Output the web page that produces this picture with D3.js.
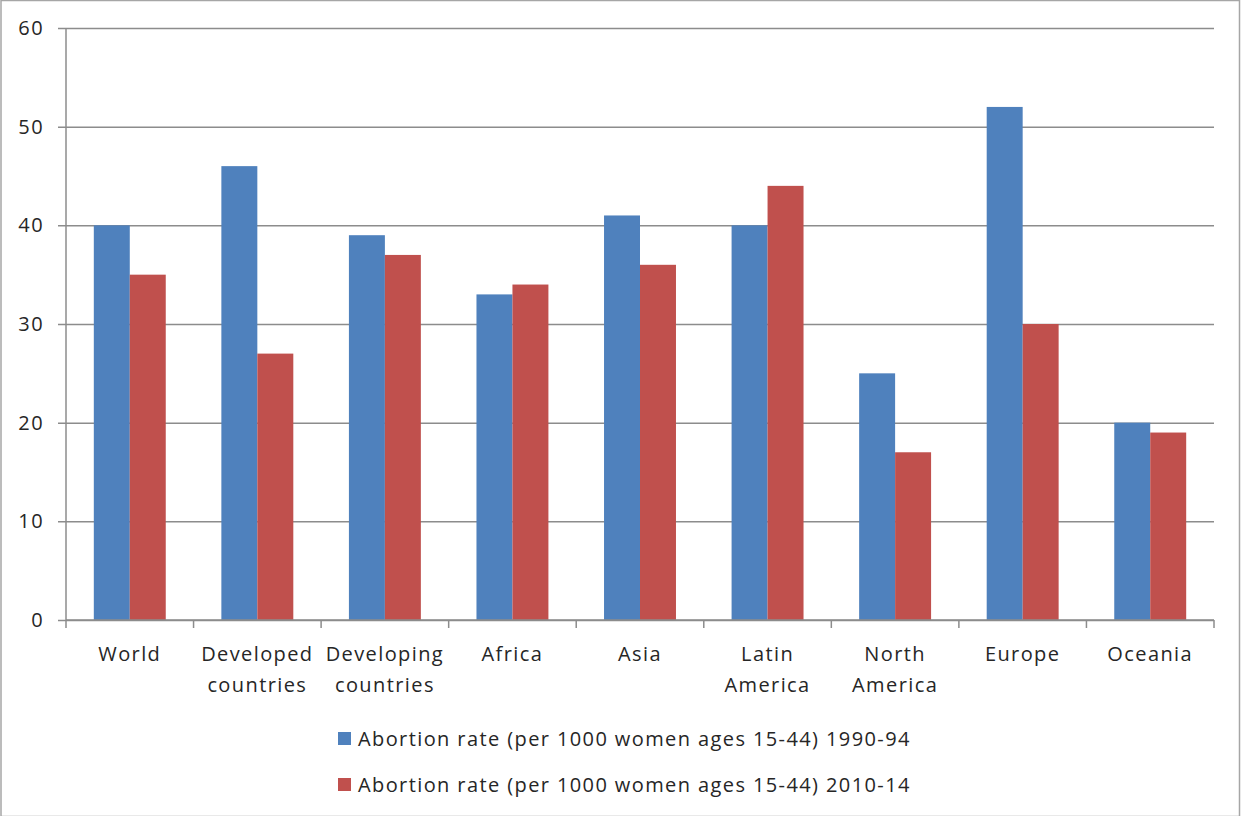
<!DOCTYPE html>
<html>
<head>
<meta charset="utf-8">
<script src="https://cdn.jsdelivr.net/npm/d3@7"></script>
<style>
  body { margin: 0; background: #fff; }
  text { font-family: "Open Sans", sans-serif; fill: #262626; letter-spacing: 1.4px; }
</style>
</head>
<body>
<div id="chart"></div>
<script>
// data
const regions = ["World", "Developed countries", "Developing countries", "Africa", "Asia",
                 "Latin America", "North America", "Europe", "Oceania"];
const rate1990 = [40, 46, 39, 33, 41, 40, 25, 52, 20];
const rate2010 = [35, 27, 37, 34, 36, 44, 17, 30, 19];
const seriesNames = ["Abortion rate (per 1000 women ages 15-44) 1990-94",
                     "Abortion rate (per 1000 women ages 15-44) 2010-14"];
const yTicks = [0, 10, 20, 30, 40, 50, 60];

const W = 1241, H = 816;
const margin = {top: 28, right: 27, bottom: 196, left: 66};
const width = W - margin.left - margin.right,
      height = H - margin.top - margin.bottom;
const colors = ["#4F81BD", "#C0504D"];

const svg = d3.select("#chart").append("svg")
  .attr("width", W).attr("height", H);

// outer frame
svg.append("rect")
  .attr("x", 1).attr("y", 0.5).attr("width", W - 2.5).attr("height", H)
  .attr("fill", "none").attr("stroke", "#a6a6a6").attr("stroke-width", 1.5);

const g = svg.append("g")
  .attr("transform", "translate(" + margin.left + "," + margin.top + ")");

const x = d3.scaleBand().domain(regions).range([0, width]).paddingInner(0).paddingOuter(0);
const y = d3.scaleLinear().domain([0, 60]).range([height, 0]);
const barW = x.bandwidth() * 0.282;

// gridlines + y ticks
g.append("g")
  .call(d3.axisLeft(y).tickValues(yTicks).tickSize(-width).tickPadding(22))
  .call(a => a.select(".domain").remove())
  .call(a => a.selectAll("line").attr("stroke", "#8c8c8c").attr("stroke-width", 1.5)
                .attr("x1", -8))
  .call(a => a.selectAll("text").style("font-size", "20px")
                .style("font-family", "'Open Sans', sans-serif").attr("fill", "#262626"));

// bars
const series = [rate1990, rate2010];
series.forEach((vals, s) => {
  g.append("g").selectAll("rect")
    .data(regions)
    .enter().append("rect")
      .attr("x", d => x(d) + x.bandwidth() / 2 - barW + s * barW)
      .attr("width", barW)
      .attr("y", (d, i) => y(vals[i]))
      .attr("height", (d, i) => height - y(vals[i]))
      .attr("fill", colors[s]);
});

// y axis line
g.append("line")
  .attr("x1", 0).attr("x2", 0).attr("y1", 0).attr("y2", height)
  .attr("stroke", "#8c8c8c").attr("stroke-width", 1.5);

// x axis with band boundary ticks
const xAxis = g.append("g").attr("transform", "translate(0," + height + ")");
xAxis.append("line")
  .attr("x1", 0).attr("x2", width)
  .attr("stroke", "#8c8c8c").attr("stroke-width", 1.5);
xAxis.selectAll("line.tick")
  .data(d3.range(regions.length + 1))
  .enter().append("line")
    .attr("class", "tick")
    .attr("x1", i => i * x.step()).attr("x2", i => i * x.step())
    .attr("y1", 0).attr("y2", 8)
    .attr("stroke", "#8c8c8c").attr("stroke-width", 1.5);

const labels = xAxis.selectAll("text.lbl")
  .data(regions)
  .enter().append("text")
    .attr("class", "lbl")
    .attr("text-anchor", "middle")
    .attr("x", d => x(d) + x.bandwidth() / 2)
    .attr("y", 41)
    .style("font-size", "20px");
labels.each(function(d) {
  const words = d.split(" ");
  const t = d3.select(this);
  words.forEach((w, i) => {
    t.append("tspan")
      .attr("x", x(d) + x.bandwidth() / 2)
      .attr("dy", i === 0 ? 0 : 31)
      .text(w);
  });
});

// legend
const legend = svg.append("g").attr("transform", "translate(338,732)");
seriesNames.forEach((name, i) => {
  const row = legend.append("g").attr("transform", "translate(0," + i * 46 + ")");
  row.append("rect").attr("width", 13).attr("height", 13).attr("fill", colors[i]);
  row.append("text").attr("x", 20).attr("y", 14)
    .style("font-size", "20px").text(name);
});
</script>
</body>
</html>
